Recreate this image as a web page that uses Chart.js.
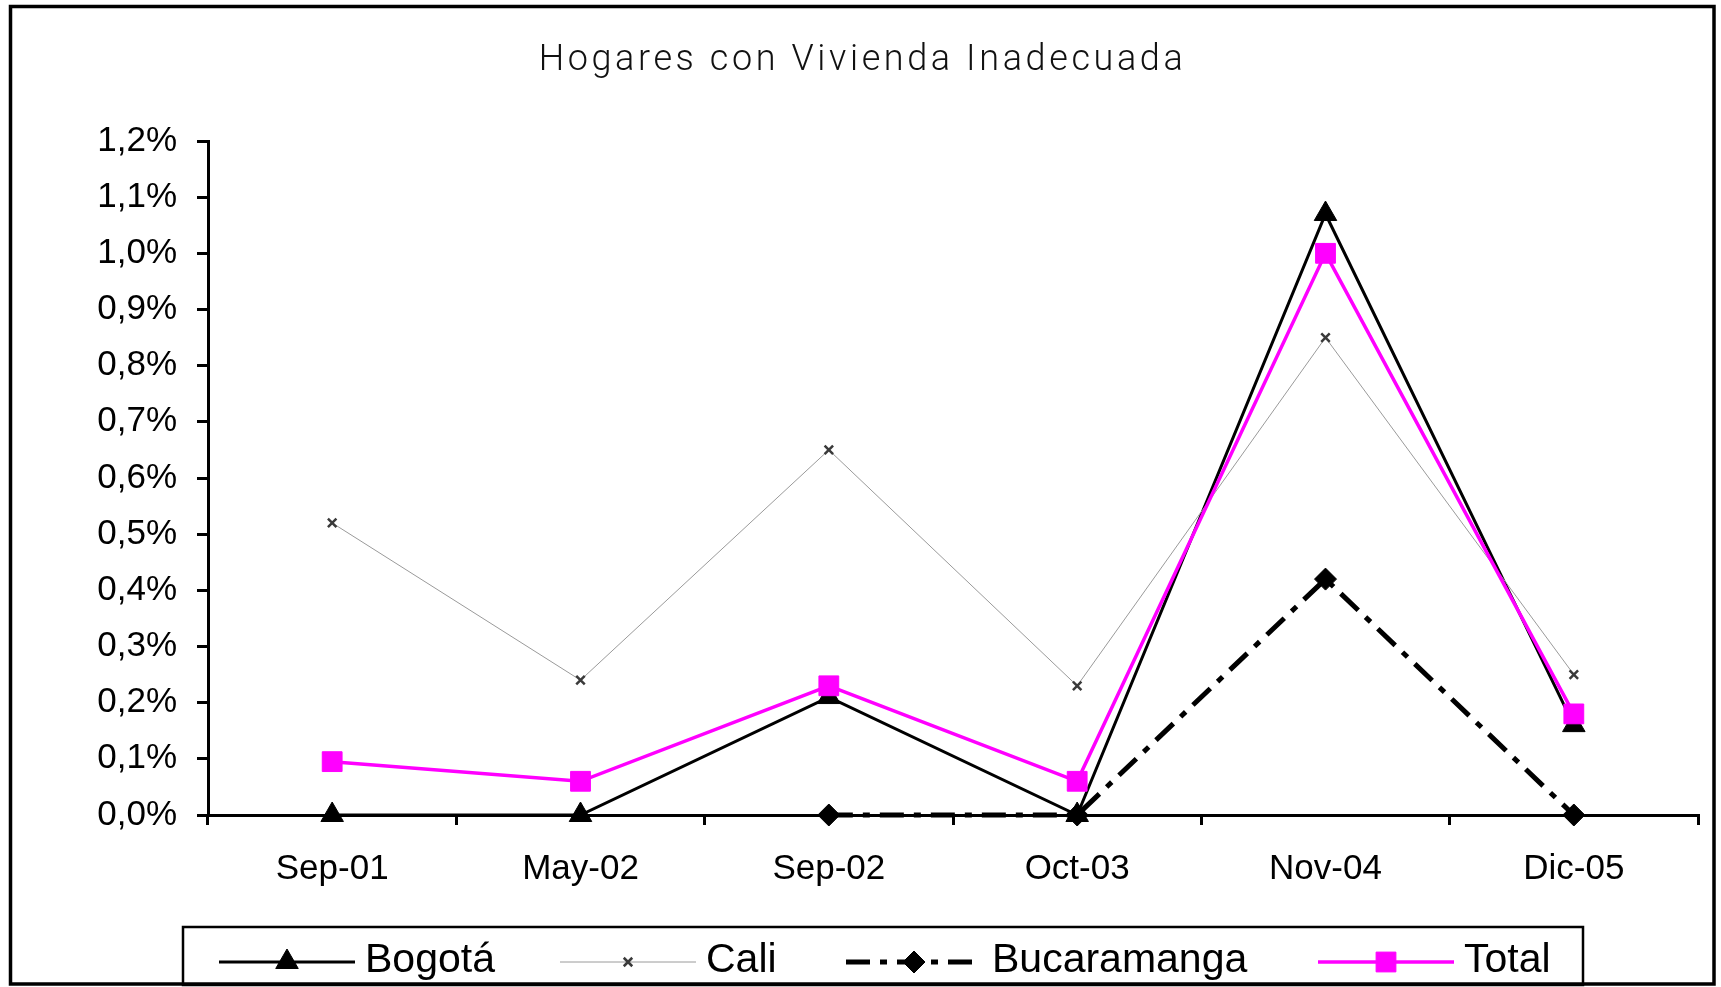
<!DOCTYPE html>
<html><head><meta charset="utf-8">
<script src="https://cdn.jsdelivr.net/npm/chart.js@4/dist/chart.umd.min.js"></script>
<style>html,body{margin:0;padding:0;background:#fff;overflow:hidden}canvas{display:block}</style>
</head><body>
<canvas id="c" width="1721" height="987"></canvas>
<script>
// ---- data ----
const categories = ['Sep-01', 'May-02', 'Sep-02', 'Oct-03', 'Nov-04', 'Dic-05'];
const bogota = [0, 0, 0.21, 0, 1.07, 0.16];
const cali = [0.52, 0.24, 0.65, 0.23, 0.85, 0.25];
const bucaramanga = [null, null, 0, 0, 0.42, 0];
const total = [0.095, 0.06, 0.23, 0.06, 1.0, 0.18];
const seriesNames = ['Bogotá', 'Cali', 'Bucaramanga', 'Total'];
const yTickLabels = ['0,0%', '0,1%', '0,2%', '0,3%', '0,4%', '0,5%', '0,6%', '0,7%', '0,8%', '0,9%', '1,0%', '1,1%', '1,2%'];
const titleText = 'Hogares con Vivienda Inadecuada';

const FONT = '"Liberation Sans", Arial, sans-serif';

const datasets = [
  { label: seriesNames[0], data: bogota, order: 4, borderColor: '#000', borderWidth: 3,
    pointStyle: 'triangle', pointRadius: 13, pointBackgroundColor: '#000', pointBorderColor: '#000', pointBorderWidth: 1 },
  { label: seriesNames[1], data: cali, order: 3, borderColor: '#9a9a9a', borderWidth: 1,
    pointStyle: 'crossRot', pointRadius: 6, pointBackgroundColor: '#3a3a3a', pointBorderColor: '#3a3a3a', pointBorderWidth: 2.5 },
  { label: seriesNames[2], data: bucaramanga, order: 2, borderColor: '#000', borderWidth: 5, borderDash: [24, 10, 7, 10],
    pointStyle: 'rectRot', pointRadius: 11, pointBackgroundColor: '#000', pointBorderColor: '#000', pointBorderWidth: 1 },
  { label: seriesNames[3], data: total, order: 1, borderColor: '#ff00ff', borderWidth: 3.5,
    pointStyle: 'rect', pointRadius: 14, pointBackgroundColor: '#ff00ff', pointBorderColor: '#ff00ff', pointBorderWidth: 1 }
].map(d => Object.assign({ tension: 0, fill: false, clip: false, spanGaps: false, pointHoverRadius: d.pointRadius }, d));

const spacingTitle = {
  id: 'spacingTitle',
  afterLayout(chart) {
    const t = chart.titleBlock;
    if (t && !t._spaced) {
      const orig = t.draw.bind(t);
      t.draw = function () {
        const ctx = chart.ctx; ctx.save(); ctx.letterSpacing = '3.6px';
        ctx.translate(chart.width / 2 - (t.left + t.right) / 2 + 2, 0);
        orig(); ctx.restore();
      };
      t._spaced = true;
    }
  }
};

const customLegend = {
  id: 'customLegend',
  afterDraw(chart) {
    const ctx = chart.ctx;
    ctx.save();
    // legend box
    ctx.lineWidth = 2.5; ctx.strokeStyle = '#000';
    ctx.strokeRect(183, 927, 1400, 58);
    const starts = [219, 560, 846, 1318];
    const len = 136, ly = 962;
    chart.data.datasets.forEach((ds, i) => {
      const x0 = starts[i];
      ctx.save();
      ctx.beginPath();
      ctx.strokeStyle = ds.borderColor; ctx.lineWidth = ds.borderWidth;
      ctx.setLineDash(ds.borderDash || []);
      ctx.moveTo(x0, ly); ctx.lineTo(x0 + len, ly); ctx.stroke();
      ctx.setLineDash([]);
      ctx.fillStyle = ds.pointBackgroundColor; ctx.strokeStyle = ds.pointBorderColor; ctx.lineWidth = ds.pointBorderWidth;
      Chart.helpers.drawPoint(ctx, { pointStyle: ds.pointStyle, radius: ds.pointRadius, rotation: 0, borderWidth: ds.pointBorderWidth }, x0 + len / 2, ly);
      ctx.restore();
      ctx.fillStyle = '#000'; ctx.font = '41px ' + FONT; ctx.textBaseline = 'alphabetic'; ctx.textAlign = 'left';
      ctx.fillText(ds.label, x0 + len + 10, 972);
    });
    // outer frame
    ctx.lineWidth = 3.5; ctx.strokeStyle = '#000';
    ctx.strokeRect(10.5, 6.5, 1703.5, 977.5);
    ctx.restore();
  }
};

new Chart(document.getElementById('c'), {
  type: 'line',
  data: { labels: categories, datasets },
  options: {
    responsive: false, animation: false, devicePixelRatio: 1,
    layout: { padding: { left: 0, right: 23, top: 0, bottom: 92 } },
    plugins: {
      legend: { display: false },
      tooltip: { enabled: false },
      title: { display: true, text: titleText, color: '#111',
        font: { family: 'Roboto, ' + FONT, size: 36, weight: '300', lineHeight: 1.2 },
        padding: { top: 39, bottom: 58.8 } }
    },
    scales: {
      x: {
        offset: true,
        grid: { display: true, offset: true, drawOnChartArea: false, drawTicks: true, tickLength: 10, color: '#000', lineWidth: 3 },
        border: { display: true, color: '#000', width: 3 },
        ticks: { color: '#000', font: { family: FONT, size: 35 }, padding: 23, maxRotation: 0, autoSkip: false },
        afterFit(s) { s.height = 80; }
      },
      y: {
        min: 0, max: 1.2,
        grid: { display: true, drawOnChartArea: false, drawTicks: true, tickLength: 11, color: '#000', lineWidth: 3 },
        border: { display: true, color: '#000', width: 3 },
        ticks: { stepSize: 0.1, color: '#000', font: { family: FONT, size: 35 }, padding: 20,
          callback: (v) => yTickLabels[Math.round(v * 10)] },
        afterFit(s) { s.width = 208; }
      }
    }
  },
  plugins: [spacingTitle, customLegend]
});
</script>
</body></html>
